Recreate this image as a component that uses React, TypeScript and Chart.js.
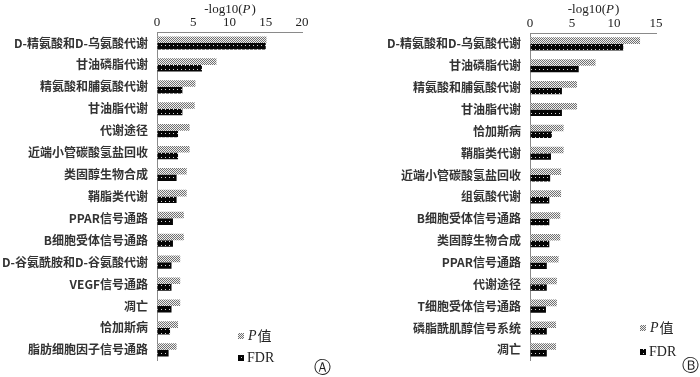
import React, { useEffect, useRef } from "react";
import { Chart, registerables } from "chart.js";

Chart.register(...registerables);

const catA = [
  "D-精氨酸和D-乌氨酸代谢",
  "甘油磷脂代谢",
  "精氨酸和脯氨酸代谢",
  "甘油脂代谢",
  "代谢途径",
  "近端小管碳酸氢盐回收",
  "类固醇生物合成",
  "鞘脂类代谢",
  "PPAR信号通路",
  "B细胞受体信号通路",
  "D-谷氨酰胺和D-谷氨酸代谢",
  "VEGF信号通路",
  "凋亡",
  "恰加斯病",
  "脂肪细胞因子信号通路",
];
const pA = [15.1, 8.2, 5.3, 5.2, 4.5, 4.5, 4.1, 4.1, 3.7, 3.7, 3.2, 3.2, 3.2, 2.9, 2.7];
const fdrA = [15.0, 6.2, 3.5, 3.5, 2.9, 2.9, 2.7, 2.7, 2.2, 2.2, 2.0, 2.0, 2.0, 1.8, 1.6];
const ticksMaxA = 20;

const catB = [
  "D-精氨酸和D-乌氨酸代谢",
  "甘油磷脂代谢",
  "精氨酸和脯氨酸代谢",
  "甘油脂代谢",
  "恰加斯病",
  "鞘脂类代谢",
  "近端小管碳酸氢盐回收",
  "组氨酸代谢",
  "B细胞受体信号通路",
  "类固醇生物合成",
  "PPAR信号通路",
  "代谢途径",
  "T细胞受体信号通路",
  "磷脂酰肌醇信号系统",
  "凋亡",
];
const pB = [13.1, 7.8, 5.6, 5.6, 4.0, 4.0, 3.7, 3.7, 3.6, 3.6, 3.4, 3.2, 3.2, 3.1, 3.1];
const fdrB = [11.1, 5.8, 3.8, 3.8, 2.6, 2.5, 2.4, 2.3, 2.3, 2.3, 2.0, 2.0, 1.9, 2.0, 2.0];
const ticksMaxB = 15;

const seriesNames = ["P值", "FDR"];

function makePattern(kind: "p" | "fdr"): CanvasPattern | string {
  const t = document.createElement("canvas");
  t.width = 4;
  t.height = 4;
  const c = t.getContext("2d");
  if (!c) return kind === "p" ? "#999" : "#111";
  if (kind === "p") {
    c.fillStyle = "#f0f0f0";
    c.fillRect(0, 0, 4, 4);
    c.fillStyle = "#707070";
    for (let y = 0; y < 4; y++)
      for (let x = 0; x < 4; x++) if ((x + y) % 2 === 0) c.fillRect(x, y, 1, 1);
  } else {
    c.fillStyle = "#050505";
    c.fillRect(0, 0, 4, 4);
    c.fillStyle = "#d8d8d8";
    c.fillRect(1, 1, 1, 1);
  }
  const pat = c.createPattern(t, "repeat");
  return pat || (kind === "p" ? "#999" : "#111");
}

type Cfg = {
  cats: string[];
  p: number[];
  fdr: number[];
  max: number;
  plotLeft: number;
  plotRight: number;
  plotTop: number;
  plotBottom: number;
  legendX: number;
  legendY1: number;
  legendY2: number;
  letter: string;
  letterX: number;
  letterY: number;
};

function Panel({ cfg, left }: { cfg: Cfg; left: number }) {
  const ref = useRef<HTMLCanvasElement>(null);
  useEffect(() => {
    if (!ref.current) return;
    const patP = makePattern("p");
    const patF = makePattern("fdr");
    const deco = {
      id: "deco",
      afterDraw(chart: any) {
        const ctx = chart.ctx as CanvasRenderingContext2D;
        ctx.save();
        const serif = '"Liberation Serif", "Times New Roman", serif';
        ctx.fillStyle = "#222";
        ctx.textBaseline = "middle";
        ctx.textAlign = "left";
        const a = "-log10(";
        const b = "P";
        const c = ")";
        ctx.font = `13px ${serif}`;
        const wa = ctx.measureText(a).width;
        const wc = ctx.measureText(c).width;
        ctx.font = `italic 13px ${serif}`;
        const wb = ctx.measureText(b).width;
        const cx = (cfg.plotLeft + cfg.plotRight) / 2;
        let x = cx - (wa + wb + wc) / 2;
        const ty = 10;
        ctx.font = `13px ${serif}`;
        ctx.fillText(a, x, ty);
        x += wa;
        ctx.font = `italic 13px ${serif}`;
        ctx.fillText(b, x, ty);
        x += wb + 1;
        ctx.font = `13px ${serif}`;
        ctx.fillText(c, x, ty);

        // legend
        const lx = cfg.legendX;
        ctx.fillStyle = patP as any;
        ctx.fillRect(lx, cfg.legendY1 - 3, 6, 6);
        ctx.fillStyle = patF as any;
        ctx.fillRect(lx, cfg.legendY2 - 3, 6, 6);
        ctx.fillStyle = "#222";
        let x2 = lx + 10;
        ctx.font = `italic 14px ${serif}`;
        ctx.fillText("P", x2, cfg.legendY1);
        x2 += ctx.measureText("P").width + 1;
        ctx.font = `14px "Noto Sans CJK SC", ${serif}`;
        ctx.fillText(seriesNames[0].slice(1), x2, cfg.legendY1);
        ctx.font = `14px ${serif}`;
        ctx.fillText(seriesNames[1], lx + 9, cfg.legendY2);

        // panel letter
        ctx.textAlign = "center";
        ctx.font = `17px "DejaVu Sans", sans-serif`;
        ctx.fillText(cfg.letter, cfg.letterX, cfg.letterY);
        ctx.restore();
      },
    };
    const chart = new Chart(ref.current, {
      type: "bar",
      data: {
        labels: cfg.cats,
        datasets: [
          { label: seriesNames[0], data: cfg.p, backgroundColor: patP as any, borderWidth: 0 },
          { label: seriesNames[1], data: cfg.fdr, backgroundColor: patF as any, borderWidth: 0 },
        ],
      },
      options: {
        indexAxis: "y",
        animation: false,
        responsive: false,
        maintainAspectRatio: false,
        devicePixelRatio: 1,
        datasets: { bar: { categoryPercentage: 0.6, barPercentage: 1 } },
        layout: {
          padding: { left: 0, top: 0, right: 350 - cfg.plotRight, bottom: 377 - cfg.plotBottom },
        },
        plugins: { legend: { display: false }, tooltip: { enabled: false }, title: { display: false } },
        scales: {
          x: {
            position: "top",
            min: 0,
            max: cfg.max,
            ticks: {
              stepSize: 5,
              padding: 2,
              color: "#222",
              font: { family: '"Liberation Serif", serif', size: 13 },
            },
            grid: { drawOnChartArea: false, drawTicks: false },
            border: { display: true, color: "#8a8a8a", width: 1 },
            afterFit: (s: any) => {
              s.height = cfg.plotTop;
            },
          },
          y: {
            ticks: {
              padding: 9,
              color: "#333",
              font: { family: '"Noto Sans CJK SC", sans-serif', size: 12, weight: "bold" },
            },
            grid: { drawOnChartArea: false, drawTicks: false },
            border: { display: true, color: "#8a8a8a", width: 1 },
            afterFit: (s: any) => {
              s.width = cfg.plotLeft;
            },
          },
        },
      },
      plugins: [deco],
    } as any);
    return () => chart.destroy();
  }, [cfg]);
  return (
    <canvas
      ref={ref}
      width={350}
      height={377}
      style={{ position: "absolute", left, top: 0, width: 350, height: 377 }}
    />
  );
}

const cfgA: Cfg = {
  cats: catA,
  p: pA,
  fdr: fdrA,
  max: ticksMaxA,
  plotLeft: 157,
  plotRight: 302,
  plotTop: 32,
  plotBottom: 368,
  legendX: 238,
  legendY1: 336,
  legendY2: 358,
  letter: "Ⓐ",
  letterX: 322,
  letterY: 369,
};

const cfgB: Cfg = {
  cats: catB,
  p: pB,
  fdr: fdrB,
  max: ticksMaxB,
  plotLeft: 180,
  plotRight: 306,
  plotTop: 33,
  plotBottom: 363,
  legendX: 290,
  legendY1: 328,
  legendY2: 352,
  letter: "Ⓑ",
  letterX: 340,
  letterY: 367,
};

export default function App() {
  return (
    <div style={{ position: "absolute", left: 0, top: 0, width: 700, height: 377, background: "#fff" }}>
      <Panel cfg={cfgA} left={0} />
      <Panel cfg={cfgB} left={350} />
    </div>
  );
}
